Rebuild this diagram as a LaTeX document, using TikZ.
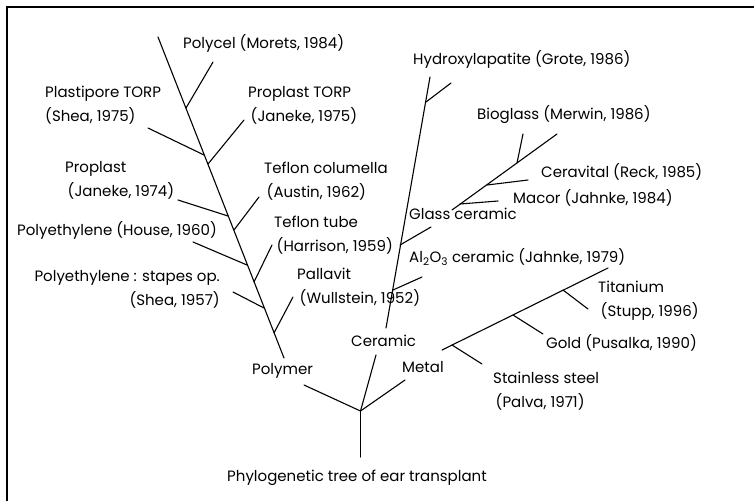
\documentclass[tikz,border=0pt]{standalone}
\usepackage{fontspec}
\setmainfont{Poppins}
\usetikzlibrary{positioning}

\begin{document}
\begin{tikzpicture}[
  x=1pt, y=-1pt,
  font=\fontsize{15}{24}\selectfont,
  every node/.append style={inner sep=0pt},
  lbl/.style={anchor=west, align=left},
  lblr/.style={anchor=east, align=right},
  twig/.style={line width=1.1pt, line cap=round},
]
\useasboundingbox (0,0) rectangle (754,501);
% frame (top and left edges only)
\draw[line width=1.2pt] (7,501) -- (7,7) -- (754,7);

% root
\coordinate (root) at (360.5,411);
\coordinate (rootEnd) at (360.5,457);
\coordinate (polyTip) at (304,385);
\coordinate (ceraTip) at (376,355);
\coordinate (metTip) at (405,380);
\draw[twig] (rootEnd) -- (root);
\draw[twig] (root) -- (polyTip);
\draw[twig] (root) -- (ceraTip);
\draw[twig] (root) -- (metTip);

% polymer trunk
\coordinate (pTop) at (158,37);
\coordinate (pBot) at (284,358);
\draw[twig] (pBot) -- (pTop);
\coordinate (pb1) at (186,108);   \coordinate (pt1) at (213,62);
\coordinate (pb2) at (204,155);   \coordinate (pt2) at (148,128);
\coordinate (pb3) at (208,164);   \coordinate (pt3) at (244,120);
\coordinate (pb4) at (228,216);   \coordinate (pt4) at (178,200);
\coordinate (pb5) at (234,230);   \coordinate (pt5) at (259,197);
\coordinate (pb6) at (247,265);   \coordinate (pt6) at (193,242);
\coordinate (pb7) at (254,282);   \coordinate (pt7) at (272,245);
\coordinate (pb8) at (264,308);   \coordinate (pt8) at (233,292);
\coordinate (pb9) at (274,333);   \coordinate (pt9) at (293,297);
\foreach \i in {1,...,9}
  \draw[twig] (pb\i) -- (pt\i);

% ceramic trunk
\coordinate (cTop) at (430,77);
\coordinate (cBot) at (386,328);
\draw[twig] (cBot) -- (cTop);
\coordinate (cb1) at (426,102);   \coordinate (ct1) at (451,83);
\coordinate (cb2) at (400,245);   \coordinate (ct2) at (431,227);
\coordinate (cb3) at (393,290);   \coordinate (ct3) at (422,277);
\foreach \i in {1,2,3}
  \draw[twig] (cb\i) -- (ct\i);
% glass ceramic
\coordinate (gBot) at (452,210);
\coordinate (gTop) at (557,134);
\draw[twig] (gBot) -- (gTop);
\coordinate (gb1) at (517,163);   \coordinate (gt1) at (523,134);
\coordinate (gb2) at (487,185);   \coordinate (gt2) at (528,180);
\coordinate (gb3) at (460,204);   \coordinate (gt3) at (498,201);
\foreach \i in {1,2,3}
  \draw[twig] (gb\i) -- (gt\i);

% metal trunk
\coordinate (mBot) at (442,350);
\coordinate (mTop) at (608,268);
\draw[twig] (mBot) -- (mTop);
\coordinate (mb1) at (452,345);   \coordinate (mt1) at (482,364);
\coordinate (mb2) at (513,315);   \coordinate (mt2) at (543,334);
\coordinate (mb3) at (563,290);   \coordinate (mt3) at (588,309);
\foreach \i in {1,2,3}
  \draw[twig] (mb\i) -- (mt\i);

% labels: polymer
\node[lbl] (polycel) at (183,43) {Polycel (Morets, 1984)};
\node[lbl] (plastipore) at (45,105) {Plastipore TORP\\(Shea, 1975)};
\node[lbl] (proplastTorp) at (248,105) {Proplast TORP\\\,(Janeke, 1975)};
\node[lbl] (proplast) at (65,180) {Proplast\\\,(Janeke, 1974)};
\node[lbl] (teflonCol) at (264,181) {Teflon columella\\\,(Austin, 1962)};
\node[lbl] (polyHouse) at (17,230) {Polyethylene (House, 1960)};
\node[lbl] (teflonTube) at (274,235) {Teflon tube\\\,(Harrison, 1959)};
\node[lblr] (stapes) at (220,289) {Polyethylene : stapes op.\\(Shea, 1957)};
\node[lbl] (pallavit) at (297,287) {Pallavit\\\,(Wullstein, 1952)};
\node[lbl] (polymer) at (252,371) {Polymer};
% labels: ceramic
\node[lbl] (ceramic) at (351,341) {Ceramic};
\node[lbl] (hydroxy) at (413,59) {Hydroxylapatite (Grote, 1986)};
\node[lbl] (bioglass) at (477,115) {Bioglass (Merwin, 1986)};
\node[lbl] (ceravital) at (541,172) {Ceravital (Reck, 1985)};
\node[lbl] (macor) at (513,198) {Macor (Jahnke, 1984)};
\node[lbl] (glassCer) at (409,214) {Glass ceramic};
\node[lbl] (alumina) at (409,257) {Al\textsubscript{2}O\textsubscript{3} ceramic (Jahnke, 1979)};
% labels: metal
\node[lbl] (metal) at (402,367) {Metal};
\node[lbl] (titanium) at (598,301) {Titanium\\\,(Stupp, 1996)};
\node[lbl] (gold) at (546,343) {Gold (Pusalka, 1990)};
\node[lbl] (stainless) at (493,391) {Stainless steel\\\,(Palva, 1971)};

\node (caption) at (357,478) {Phylogenetic tree of ear transplant};
\end{tikzpicture}
\end{document}
